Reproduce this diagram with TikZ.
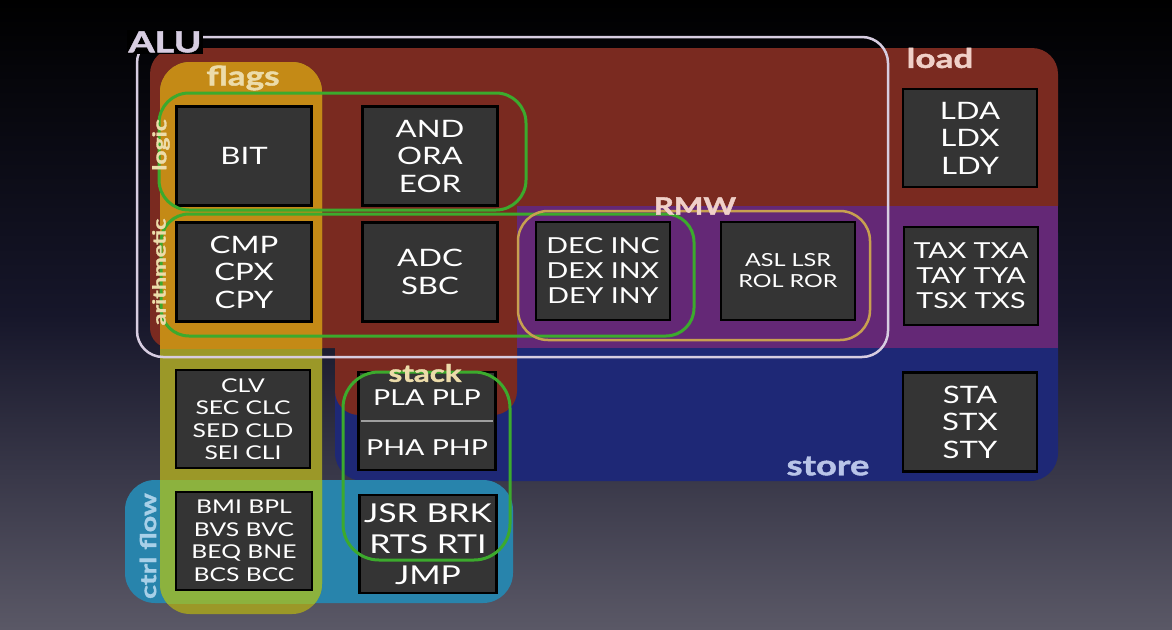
\documentclass[tikz,border=0pt]{standalone}
\usepackage{fontspec}
\setmainfont[FakeStretch=1.3]{Lato}
\newfontfamily\lblfont[FakeStretch=1.3, BoldFeatures={FakeBold=1.6}]{Lato}
\definecolor{loadred}{RGB}{122,42,32}
\definecolor{storeblue}{RGB}{30,40,118}
\definecolor{xferpurple}{RGB}{100,40,118}
\definecolor{flagolive}{RGB}{155,152,40}
\definecolor{flagorange}{RGB}{196,138,22}
\definecolor{flaggreen}{RGB}{140,178,62}
\definecolor{ctrlcyan}{RGB}{40,132,172}
\definecolor{boxgray}{RGB}{52,52,52}
\definecolor{grn}{RGB}{60,170,45}
\definecolor{rmwtan}{RGB}{200,160,80}
\definecolor{alulilac}{RGB}{215,205,225}
\definecolor{bgmid}{RGB}{22,22,42}
\definecolor{bgbot}{RGB}{90,88,102}
\definecolor{cream}{RGB}{236,220,170}
\definecolor{pinkw}{RGB}{240,208,200}
\definecolor{storetxt}{RGB}{184,196,232}
\definecolor{ctrltxt}{RGB}{168,208,232}
\tikzset{
  opbox/.style={draw=black, line width=2.2pt, fill=boxgray, text=white, align=center,
    inner sep=0pt, minimum width=135pt, minimum height=99pt},
  fA/.style={font=\fontsize{24}{27.5}\selectfont},
  fB/.style={font=\fontsize{22}{25}\selectfont},
  fC/.style={font=\fontsize{19}{22.5}\selectfont},
  fD/.style={font=\fontsize{18}{21}\selectfont},
  fE/.style={font=\fontsize{26}{31}\selectfont},
  lbl/.style={font=\lblfont\bfseries\fontsize{#1}{#1}\selectfont, inner sep=1pt},
  ring/.style={line width=3pt, draw=grn},
}
\begin{document}
\begin{tikzpicture}[x=1pt,y=-1pt]
\useasboundingbox (0,0) rectangle (1172,629);
\shade[top color=black, bottom color=bgbot, middle color=bgmid] (0,0) rectangle (1172,629);
% store (blue)
\fill[storeblue, rounded corners=28pt] (335,205) rectangle (1058,481);
% load (red)
\fill[loadred] (150,200) [rounded corners=26pt] -- (150,48) -- (1058,48) [sharp corners] -- (1058,206) -- (517,206) [rounded corners=24pt] -- (517,415) -- (335,415) [sharp corners] -- (335,348) [rounded corners=20pt] -- (150,348) -- cycle;
% transfer (purple)
\fill[xferpurple] (517,206) rectangle (1058,348);
% ctrl flow
\fill[ctrlcyan, rounded corners=30pt] (125,480) rectangle (513,603);
% flags
\fill[flagolive, rounded corners=30pt] (160,62) rectangle (322,614);
\begin{scope}
  \clip (100,0) rectangle (400,348);
  \fill[flagorange, rounded corners=30pt] (160,62) rectangle (322,614);
\end{scope}
\begin{scope}
  \clip (100,480) rectangle (400,603);
  \fill[flaggreen, rounded corners=30pt] (160,62) rectangle (322,614);
\end{scope}
% boxes
\node[opbox, fA] (bit) at (244,156) {BIT};
\node[opbox, fA] (andb) at (430,156) {AND\\ORA\\EOR};
\node[opbox, fA] (cmp) at (244,272) {CMP\\CPX\\CPY};
\node[opbox, fA] (adc) at (430,272) {ADC\\SBC};
\node[opbox, fB, minimum width=134pt, minimum height=98pt] (dec) at (603,271) {DEC INC\\DEX INX\\DEY INY};
\node[opbox, fD, minimum width=134pt, minimum height=98pt] (asl) at (788,271) {ASL LSR\\ROL ROR};
\node[opbox, fA, minimum width=134pt, minimum height=98pt] (lda) at (970,138) {LDA\\LDX\\LDY};
\node[opbox, fB, minimum width=134pt, minimum height=98pt] (tax) at (971,276) {TAX TXA\\TAY TYA\\TSX TXS};
\node[opbox, fA, minimum width=134pt, minimum height=99pt] (sta) at (970,422) {STA\\STX\\STY};
\node[opbox, fC, minimum width=134pt, minimum height=98pt] (clv) at (243,419) {CLV\\SEC CLC\\SED CLD\\SEI CLI};
\node[opbox, fC, minimum width=136pt, minimum height=98pt] (bmi) at (244,541) {BMI BPL\\BVS BVC\\BEQ BNE\\BCS BCC};
\node[opbox, minimum width=137pt, minimum height=98pt] (stk) at (427,421) {};
\draw[gray!75, line width=1.5pt] ([xshift=4pt]stk.west) -- ([xshift=-4pt]stk.east);
\node[fB, text=white, inner sep=0pt] (pla) at (427,398) {PLA PLP};
\node[fB, text=white, inner sep=0pt] (pha) at (427,448) {PHA PHP};
\node[opbox, fE, minimum width=137pt, minimum height=98pt] (jsr) at (428,544) {JSR BRK\\RTS RTI\\JMP};
% outlines
\draw[alulilac, line width=2.5pt, rounded corners=26pt] (137,37) rectangle (888,357);
\draw[ring, rounded corners=30pt] (159,93) rectangle (526,210);
\draw[ring, rounded corners=28pt] (161,214) rectangle (694,336);
\draw[rmwtan, line width=2.5pt, rounded corners=30pt] (518,211) rectangle (870,340);
\draw[ring, rounded corners=36pt] (343,372) rectangle (510,560);
% labels
\node[lbl=29, fill=black, text=alulilac] (alul) at (165,42) {ALU};
\node[lbl=27, text=cream] (flagsl) at (243,78) {flags};
\node[lbl=27, text=pinkw] (loadl) at (940,58) {load};
\node[lbl=24, text=pinkw] (rmwl) at (695,206) {RMW};
\node[lbl=28, text=storetxt] (storel) at (828,466) {store};
\node[lbl=24, text=cream] (stackl) at (425,373) {stack};
\node[lbl=19, text=cream, rotate=90] (logicl) at (161,145) {logic};
\node[lbl=18, text=cream, rotate=90] (arithl) at (159,272) {arithmetic};
\node[lbl=22, text=ctrltxt, rotate=90] (ctrll) at (148,546) {ctrl flow};
\end{tikzpicture}
\end{document}
